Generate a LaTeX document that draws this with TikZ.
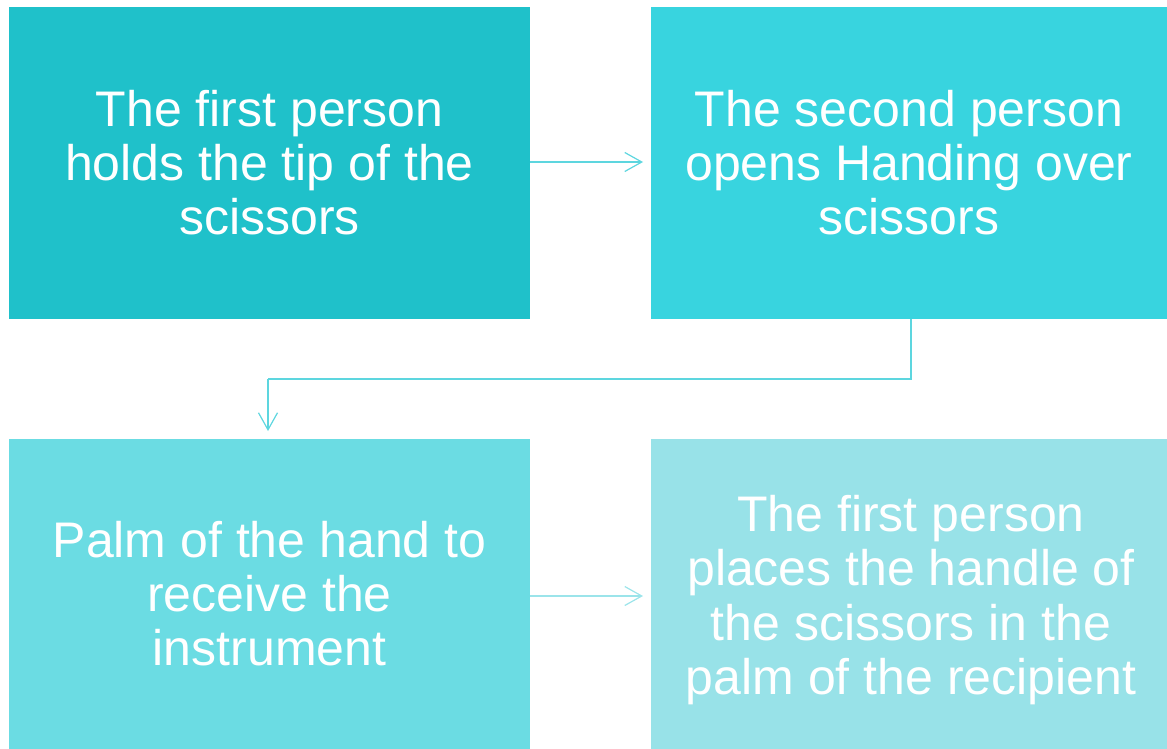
\documentclass[tikz,border=0pt]{standalone}
\usepackage{fontspec}
\setmainfont{Liberation Sans}
\usetikzlibrary{arrows.meta}
\definecolor{cA}{HTML}{1FC1CA}
\definecolor{cB}{HTML}{38D4DF}
\definecolor{cC}{HTML}{6BDCE3}
\definecolor{cD}{HTML}{98E2E8}
\definecolor{lA}{HTML}{5DD6DF}
\definecolor{lB}{HTML}{9BE4EA}
\begin{document}
\begin{tikzpicture}[x=1pt,y=-1pt,
  stepbox/.style={minimum width=521pt,minimum height=312pt,inner sep=0pt,outer sep=0pt,
    text=white,align=center,font=\fontsize{50}{54}\selectfont},
  steptext/.style={inner sep=0pt,text=white,align=center,font=\fontsize{50}{54.3}\selectfont},
  conn/.style={line width=1.2pt,-{Straight Barb[length=17pt,width=19pt,line width=1.2pt]}}]
\useasboundingbox (0,0) rectangle (1167,749);
\node[stepbox,fill=cA] (a) at (269.5,163) {The first person\\holds the tip of the\\scissors};
\node[stepbox,fill=cB,minimum width=516pt] (b) at (909,163) {The second person\\opens Handing over\\scissors};
\node[stepbox,fill=cC,minimum height=310pt] (c) at (269.5,594) {Palm of the hand to\\receive the\\instrument};
\node[stepbox,fill=cD,minimum height=310pt,minimum width=516pt] (d) at (909,594) {};
\node[steptext] (dt) at (911,600) {The first person\\places the handle of\\the scissors in the\\palm of the recipient};
\coordinate (a1) at (643,162);
\draw[conn,draw=lA] (a.east |- a1) -- (a1);
\coordinate (k1) at (911,379);
\coordinate (k2) at (268,379);
\coordinate (k3) at (268,431);
\draw[conn,draw=lA,-] (b.south -| k1) -- (k1) -- (k2);
\draw[conn,draw=lA] (k2) -- (k3);
\coordinate (c1) at (643,596);
\draw[conn,draw=lB] (c.east |- c1) -- (c1);
\end{tikzpicture}
\end{document}
